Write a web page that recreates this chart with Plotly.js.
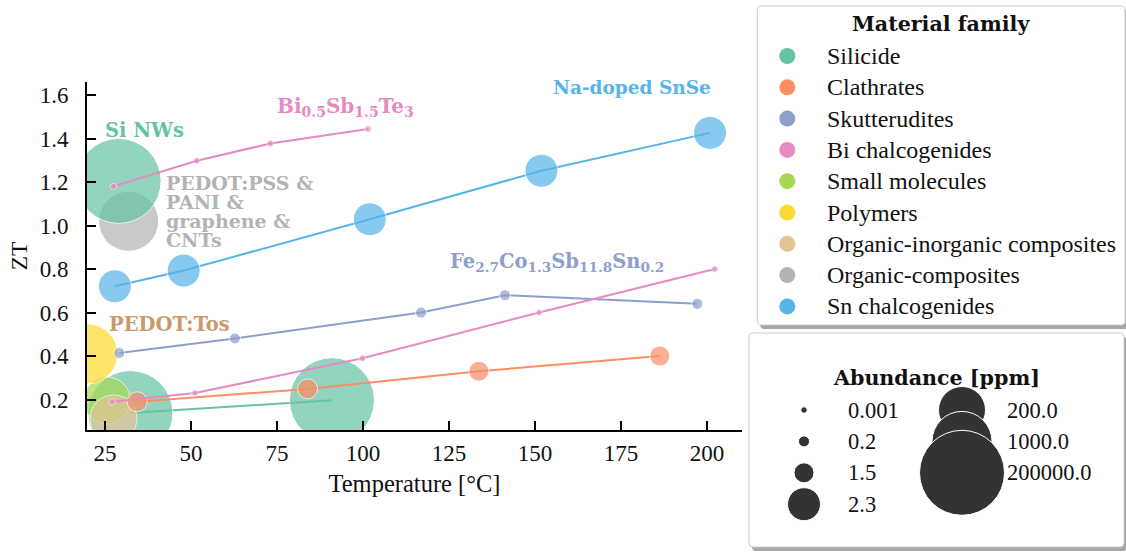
<!DOCTYPE html>
<html><head><meta charset="utf-8">
<script src="https://cdn.plot.ly/plotly-3.0.1.min.js"></script>
<style>html,body{margin:0;padding:0;background:#fff}#chart{width:1126px;height:552px}</style>
</head><body><div id="chart"></div>
<script>
// ---------------- data ----------------
const families = ["Silicide","Clathrates","Skutterudites","Bi chalcogenides","Small molecules","Polymers","Organic-inorganic composites","Organic-composites","Sn chalcogenides"];
const familyColors = ["#66c2a5","#fc8d62","#8da0cb","#e78ac3","#a6d854","#ffd92f","#e5c494","#b3b3b3","#56b4e9"];

const silicideT = [32.4, 91.0];
const silicideZT = [0.138, 0.197];
const siNWsT = [29.0];
const siNWsZT = [1.205];
const clathT = [34.4, 83.9, 133.7, 186.3];
const clathZT = [0.19, 0.249, 0.33, 0.40];
const skutT = [29.2, 62.8, 116.9, 141.3, 197.2];
const skutZT = [0.414, 0.481, 0.60, 0.68, 0.64];
const biAT = [27.5, 51.7, 73.1, 101.5];
const biAZT = [1.18, 1.298, 1.377, 1.444];
const biBT = [27.1, 51.2, 99.9, 151.2, 202.3];
const biBZT = [0.19, 0.23, 0.39, 0.60, 0.80];
const smallMolT = [25.6];
const smallMolZT = [0.196];
const polymerT = [20.0];
const polymerZT = [0.41];
const orgInorgT = [27.5];
const orgInorgZT = [0.113];
const orgCompT = [31.9];
const orgCompZT = [1.02];
const snT = [27.9, 47.9, 102.0, 151.9, 200.9];
const snZT = [0.721, 0.793, 1.029, 1.252, 1.426];

// abundance [ppm] of each series
const abundance = {
  silicide: 200000, siNWs: 200000, clath: 1.5, skut: 0.2, bi: 0.001,
  smallMol: 200, polymer: 1000, orgInorg: 200, orgComp: 1000, sn: 2.3
};
const sizeLevels = [0.001, 0.2, 1.5, 2.3, 200, 1000, 200000];
const sizeLabels = ["0.001", "0.2", "1.5", "2.3", "200.0", "1000.0", "200000.0"];

const xTicks = [25, 50, 75, 100, 125, 150, 175, 200];
const yTicks = [0.2, 0.4, 0.6, 0.8, 1.0, 1.2, 1.4, 1.6];

// ---------------- styles ----------------
const levelDiameters = [6.5, 11, 20, 33, 47, 60, 85];
const W = 1126, H = 552;
const SERIF = "Liberation Serif";
const BOLD = "DejaVu Serif";
function sizeOf(ab) { return levelDiameters[sizeLevels.indexOf(ab)]; }
function colOf(fam) { return familyColors[families.indexOf(fam)]; }
function series(name, fam, xs, ys, ab, mode, lw) {
  return {
    type: "scatter", mode: mode, name: name, x: xs, y: ys,
    legendgroup: fam, showlegend: false,
    line: {color: colOf(fam), width: 2},
    marker: {color: colOf(fam), size: xs.map(() => sizeOf(ab)), line: {color: "#ffffff", width: lw}},
    hovertemplate: fam + "<br>T=%{x}<br>ZT=%{y}<extra></extra>"
  };
}

const traces = [
  series("Silicide", "Silicide", silicideT, silicideZT, abundance.silicide, "lines+markers", 1),
  series("Small molecules", "Small molecules", smallMolT, smallMolZT, abundance.smallMol, "markers", 1),
  series("Polymers", "Polymers", polymerT, polymerZT, abundance.polymer, "markers", 1),
  series("Organic-inorganic composites", "Organic-inorganic composites", orgInorgT, orgInorgZT, abundance.orgInorg, "markers", 1),
  series("Organic-composites", "Organic-composites", orgCompT, orgCompZT, abundance.orgComp, "markers", 1),
  series("Si NWs", "Silicide", siNWsT, siNWsZT, abundance.siNWs, "markers", 1),
  series("Skutterudites", "Skutterudites", skutT, skutZT, abundance.skut, "lines+markers", 1),
  series("Clathrates", "Clathrates", clathT, clathZT, abundance.clath, "lines+markers", 1),
  series("Sn chalcogenides", "Sn chalcogenides", snT, snZT, abundance.sn, "lines+markers", 1),
  series("Bi chalcogenides", "Bi chalcogenides", biAT, biAZT, abundance.bi, "lines+markers", 0.8),
  series("Bi chalcogenides", "Bi chalcogenides", biBT, biBZT, abundance.bi, "lines+markers", 0.8)
];

const annotations = [];

// ---- right column (legends) on an overlay axis pair measured in pixels ----
const famMarkX = 787.3, famTextX = 826, famRow0 = 56, famStep = 31.3;
traces.push({type: "scatter", mode: "markers", xaxis: "x2", yaxis: "y2",
  x: families.map(() => famMarkX), y: families.map((f, i) => famRow0 + i * famStep),
  text: families, showlegend: false, hoverinfo: "text", cliponaxis: false,
  marker: {color: familyColors, size: 16, line: {width: 0}}});
families.forEach((f, i) => {
  annotations.push({xref: "x2", yref: "y2", x: famTextX, y: famRow0 + i * famStep, text: f, showarrow: false,
    xanchor: "left", yanchor: "middle", borderpad: 0, font: {family: SERIF, size: 24, color: "#111"}});
});

const colX = [804, 962], rowY0 = 410, rowStep = 31.4, labX = [847, 1006];
sizeLevels.forEach((lv, i) => {
  const c = i < 4 ? 0 : 1, r = i < 4 ? i : i - 4;
  traces.push({type: "scatter", mode: "markers", xaxis: "x2", yaxis: "y2", x: [colX[c]], y: [rowY0 + r * rowStep],
    showlegend: false, hoverinfo: "skip", cliponaxis: false,
    marker: {color: "#333333", size: sizeOf(lv), line: {color: "#ffffff", width: 1}}});
  annotations.push({xref: "x2", yref: "y2", x: labX[c], y: rowY0 + r * rowStep, text: sizeLabels[i],
    showarrow: false, xanchor: "left", yanchor: "middle", borderpad: 0, font: {family: SERIF, size: 22.5, color: "#111"}});
});
annotations.push(
  {xref: "x2", yref: "y2", x: 940.7, y: 24, text: "<b>Material family</b>", showarrow: false,
   xanchor: "center", yanchor: "middle", font: {family: BOLD, size: 20.6, color: "#111"}},
  {xref: "x2", yref: "y2", x: 936.7, y: 378.3, text: "<b>Abundance [ppm]</b>", showarrow: false,
   xanchor: "center", yanchor: "middle", font: {family: BOLD, size: 20.6, color: "#111"}}
);

// ---- in-plot labels ----
function lab(text, x, y, color, size) {
  return {xref: "x", yref: "y", x: x, y: y, text: "<b>" + text + "</b>", showarrow: false,
    xanchor: "left", yanchor: "middle", align: "left", borderpad: 0, font: {family: BOLD, size: size, color: color}};
}
annotations.push(
  lab("Si NWs", 24.6, 1.435, colOf("Silicide"), 19.5),
  lab("Bi<sub>0.5</sub>Sb<sub>1.5</sub>Te<sub>3</sub>", 74.6, 1.545, colOf("Bi chalcogenides"), 20),
  lab("Na-doped SnSe", 155.0, 1.634, colOf("Sn chalcogenides"), 18.5),
  lab("PEDOT:PSS &", 42.6, 1.194, colOf("Organic-composites"), 19),
  lab("PANI &", 42.6, 1.106, colOf("Organic-composites"), 19),
  lab("graphene &", 42.6, 1.019, colOf("Organic-composites"), 19),
  lab("CNTs", 42.6, 0.934, colOf("Organic-composites"), 19),
  lab("PEDOT:Tos", 25.9, 0.545, "#c99a6b", 19.5),
  lab("Fe<sub>2.7</sub>Co<sub>1.3</sub>Sb<sub>11.8</sub>Sn<sub>0.2</sub>", 125.0, 0.83, colOf("Skutterudites"), 19.5)
);

// ---- legend boxes ----
function rr(x0, y0, x1, y1, r) {
  const X = v => (v / W).toFixed(5), Y = v => (1 - v / H).toFixed(5);
  return `M${X(x0 + r)},${Y(y0)} L${X(x1 - r)},${Y(y0)} Q${X(x1)},${Y(y0)} ${X(x1)},${Y(y0 + r)} ` +
    `L${X(x1)},${Y(y1 - r)} Q${X(x1)},${Y(y1)} ${X(x1 - r)},${Y(y1)} L${X(x0 + r)},${Y(y1)} ` +
    `Q${X(x0)},${Y(y1)} ${X(x0)},${Y(y1 - r)} L${X(x0)},${Y(y0 + r)} Q${X(x0)},${Y(y0)} ${X(x0 + r)},${Y(y0)} Z`;
}
const boxes = [[757.3, 6, 1125, 325], [749, 333, 1124, 547]];
const shapes = [];
boxes.forEach(b => {
  shapes.push({type: "path", xref: "paper", yref: "paper", layer: "below", path: rr(b[0] + 3, b[1] + 4, b[2] + 3, b[3] + 4, 4),
    fillcolor: "#a6a6a6", line: {width: 0}});
  shapes.push({type: "path", xref: "paper", yref: "paper", layer: "below", path: rr(b[0], b[1], b[2], b[3], 4),
    fillcolor: "#ffffff", line: {color: "#cccccc", width: 1}});
});

const axisCommon = {
  showline: true, linecolor: "#000", linewidth: 1.8, mirror: false, showgrid: false, zeroline: false,
  ticks: "inside", ticklen: 9, tickwidth: 1.8, tickcolor: "#000",
  tickfont: {family: SERIF, size: 23, color: "#111"}, automargin: false
};

const layout = {
  width: W, height: H, margin: {l: 0, r: 0, t: 0, b: 0},
  paper_bgcolor: "#fff", plot_bgcolor: "rgba(0,0,0,0)",
  font: {family: SERIF, color: "#111"},
  showlegend: false,
  xaxis: Object.assign({}, axisCommon, {
    domain: [87 / W, 742 / W], range: [19.8, 210.2], tickvals: xTicks, ticktext: xTicks.map(String),
    ticklabelstandoff: 1,
    title: {text: "Temperature [°C]", font: {family: SERIF, size: 24.5, color: "#111"}, standoff: 10}
  }),
  yaxis: Object.assign({}, axisCommon, {
    domain: [(H - 430) / H, (H - 82) / H], range: [0.06, 1.66], tickvals: yTicks, ticktext: yTicks.map(v => v.toFixed(1)),
    ticklabelstandoff: 12,
    title: {text: "ZT", font: {family: SERIF, size: 23.5, color: "#111"}, standoff: 6}
  }),
  xaxis2: {domain: [749 / W, 1125 / W], range: [749, 1125], visible: false, fixedrange: true},
  yaxis2: {domain: [0, 1], range: [552, 0], visible: false, fixedrange: true},
  annotations: annotations,
  shapes: shapes
};

Plotly.newPlot("chart", traces, layout, {displayModeBar: false, responsive: false});
</script>
</body></html>
